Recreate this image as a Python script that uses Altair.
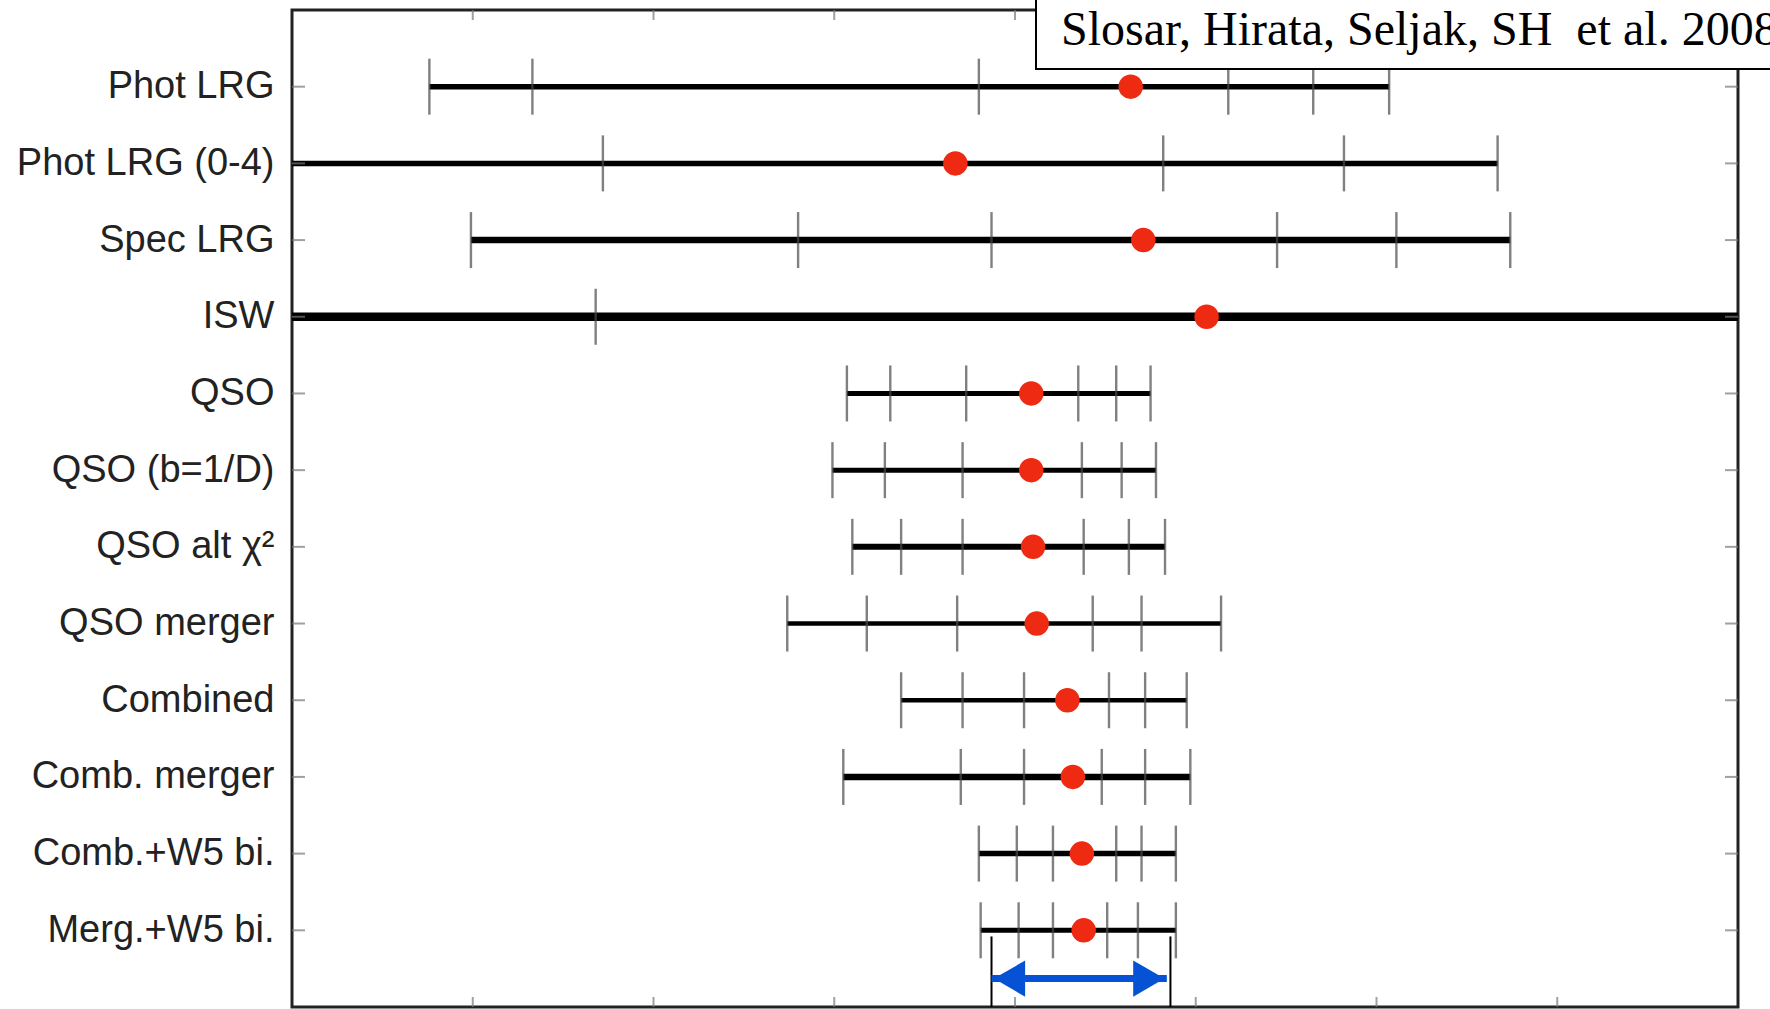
import json
import altair as alt
import pandas as pd

# ---------------- data (f_NL constraints) ----------------
ROWS = ["Phot LRG", "Phot LRG (0-4)", "Spec LRG", "ISW", "QSO", "QSO (b=1/D)",
        "QSO alt χ²", "QSO merger", "Combined", "Comb. merger",
        "Comb.+W5 bi.", "Merg.+W5 bi."]
CENTER = [64, -33, 71, 106, 9, 9, 10, 12, 29, 32, 37, 38]
LO3 = [-324, None, -301, None, -93, -101, -90, -126, -63, -95, -20, -19]
LO2 = [-267, None, -120, None, -69, -72, -63, -82, -29, -30, 1, 2]
LO1 = [-20, -228, -13, -232, -27, -29, -29, -32, 5, 5, 21, 21]
HI1 = [118, 82, 145, None, 35, 37, 38, 43, 52, 48, 56, 51]
HI2 = [165, 182, 211, None, 56, 59, 63, 70, 72, 72, 70, 68]
HI3 = [207, 267, 274, None, 75, 78, 83, 114, 95, 97, 89, 89]

X_MIN, X_MAX = -400, 400
X_TICKS = [-300, -200, -100, 0, 100, 200, 300]
Y_MIN, Y_MAX = 0, 13

# highlighted range at the bottom (blue double arrow between two bars)
RANGE_LO, RANGE_HI = -13, 86
ARROW_LO, ARROW_HI = -13, 84
ARROW_Y = 12.63
BAR_TOP = 12.08

TITLE = "Slosar, Hirata, Seljak, SH\u00a0 et al. 2008"

# ---------------- styles ----------------
LINE_WIDTHS = [5.5, 5.5, 6.5, 8.5, 5, 5, 6, 4.5, 4.5, 6.5, 5.5, 5]
W, H = 1446, 997

idx = list(range(1, len(ROWS) + 1))
line_df = pd.DataFrame({
    "row": ROWS, "idx": idx,
    "x": [v if v is not None else X_MIN for v in LO3],
    "x2": [v if v is not None else X_MAX for v in HI3],
})
dot_df = pd.DataFrame({"row": ROWS, "idx": idx, "x": CENTER})
tick_records = []
for i, name in enumerate(ROWS):
    for arr in (LO3, LO2, LO1, HI1, HI2, HI3):
        if arr[i] is not None:
            tick_records.append({"row": name, "idx": i + 1, "x": arr[i]})
tick_df = pd.DataFrame(tick_records)
side_df = pd.DataFrame([{"x": xv, "idx": iv} for xv in (X_MIN, X_MAX) for iv in idx])
topbot_df = pd.DataFrame([{"x": xv, "idx": yv} for xv in X_TICKS for yv in (Y_MIN, Y_MAX)])
bars_df = pd.DataFrame({"x": [RANGE_LO, RANGE_HI], "idx": [BAR_TOP] * 2, "idx2": [Y_MAX] * 2})
arrow_df = pd.DataFrame({"x": [ARROW_LO], "x2": [ARROW_HI], "idx": [ARROW_Y]})
head_l = pd.DataFrame({"x": [ARROW_LO], "idx": [ARROW_Y]})
head_r = pd.DataFrame({"x": [ARROW_HI], "idx": [ARROW_Y]})
one = pd.DataFrame({"t": [TITLE]})

label_expr = json.dumps(ROWS) + "[datum.value - 1]"
yaxis = alt.Axis(values=idx, labelExpr=label_expr, ticks=False, domain=False,
                 grid=False, title=None, labelFontSize=38, labelFont="Liberation Sans",
                 labelColor="#222", labelPadding=18, labelOverlap=False,
                 labelBound=False, labelFlush=False, labelLimit=0)
XS = alt.Scale(domain=[X_MIN, X_MAX], nice=False, zero=False)
YS = alt.Scale(domain=[Y_MIN, Y_MAX], nice=False, zero=False, reverse=True)
X = alt.X("x:Q", scale=XS, axis=None)
Y = alt.Y("idx:Q", scale=YS, axis=yaxis)

lines = alt.Chart(line_df).mark_rule(color="black", clip=True).encode(
    x=X, x2="x2:Q", y=Y,
    strokeWidth=alt.StrokeWidth("row:N", scale=alt.Scale(type="ordinal", domain=ROWS,
                                                         range=LINE_WIDTHS), legend=None),
)
ticks = alt.Chart(tick_df).mark_tick(orient="vertical", size=56, thickness=2.4,
                                     color="#4a4a4a", clip=True).encode(x=X, y=Y)
dots = alt.Chart(dot_df).mark_circle(size=600, color="#ee2b12", opacity=1).encode(x=X, y=Y)
side_ticks = alt.Chart(side_df).mark_tick(orient="horizontal", size=26, thickness=2,
                                          color="#777", clip=True).encode(x=X, y=Y)
tb_ticks = alt.Chart(topbot_df).mark_tick(orient="vertical", size=20, thickness=2,
                                          color="#777", clip=True).encode(x=X, y=Y)
bars = alt.Chart(bars_df).mark_rule(color="black", strokeWidth=2).encode(x=X, y=Y, y2="idx2:Q")
shaft = alt.Chart(arrow_df).mark_rule(color="#0652d4", strokeWidth=7).encode(x=X, x2="x2:Q", y=Y)
left_head = alt.Chart(head_l).mark_point(shape="triangle-left", size=1300, filled=True,
                                         color="#0652d4", opacity=1, xOffset=18).encode(x=X, y=Y)
right_head = alt.Chart(head_r).mark_point(shape="triangle-right", size=1300, filled=True,
                                          color="#0652d4", opacity=1, xOffset=-18).encode(x=X, y=Y)
box = alt.Chart(one).mark_rect(fill="white", stroke="black", strokeWidth=2).encode(
    x=alt.value(744), x2=alt.value(1500), y=alt.value(-20), y2=alt.value(59))
title = alt.Chart(one).mark_text(font="Liberation Serif", fontSize=48, align="left",
                                 baseline="alphabetic", color="black").encode(
    x=alt.value(769), y=alt.value(35), text="t:N")

chart = alt.layer(lines, ticks, dots, side_ticks, tb_ticks, bars, shaft, left_head,
                  right_head, box, title).properties(
    width=W, height=H,
    autosize=alt.AutoSizeParams(type="none"),
    padding={"left": 292, "top": 10, "right": 32, "bottom": 2},
    background="white",
).configure_view(stroke="#222", strokeWidth=3)

chart.save("out.html", embed_options={"renderer": "svg", "actions": False})
